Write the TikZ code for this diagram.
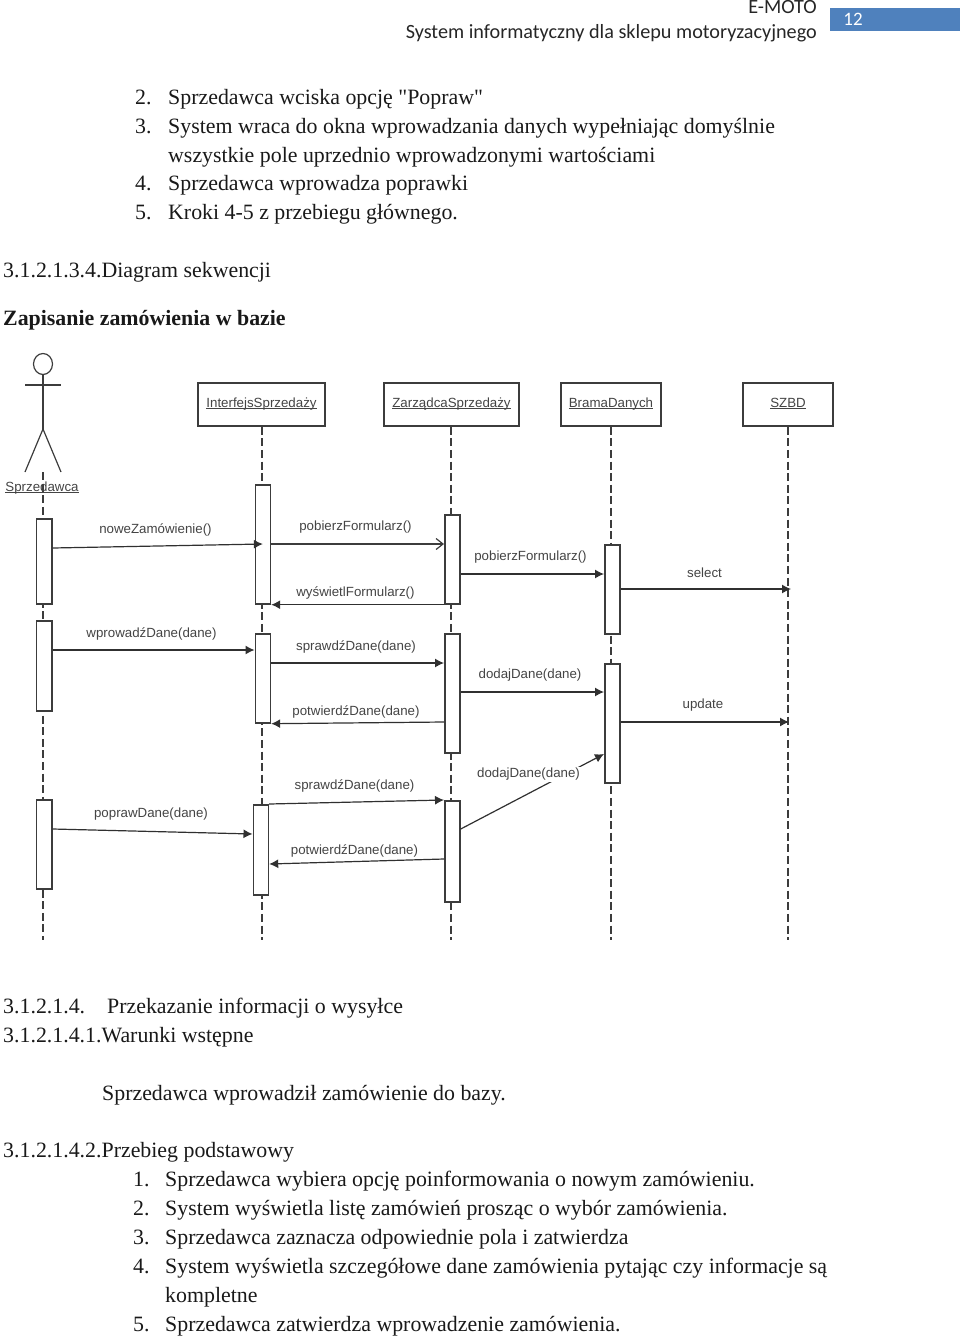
\documentclass[tikz,border=0pt]{standalone}
\usepackage{fontspec}
\setmainfont[Ligatures=TeXOff]{Liberation Serif}
\newfontfamily\diagfont{Liberation Sans}
\newfontfamily\headfont{Carlito}
\usetikzlibrary{arrows.meta,shapes.geometric}
\definecolor{ink}{HTML}{3C3C3C}
\definecolor{lab}{HTML}{444444}
\definecolor{pageblue}{HTML}{4F81BD}
\newcommand{\ul}[1]{\raisebox{-7pt}{\underline{\smash{#1}}}}
\tikzset{
  body/.style={anchor=base west,inner sep=0pt,font=\fontsize{21.87}{26}\selectfont,text=black!90},
  head/.style={anchor=base east,inner sep=0pt,font=\headfont\fontsize{20.2}{24}\selectfont,text=black!85},
  objbox/.style={draw=ink,line width=1.4pt,fill=white,inner sep=0pt,font=\diagfont\fontsize{13.3}{16}\selectfont,text=lab},
  actbox/.style={draw=ink,line width=1.7pt,fill=white,inner sep=0pt,anchor=north west,minimum width=15pt},
  life/.style={draw=ink,line width=1.4pt,dash pattern=on 8pt off 3.6pt},
  msg/.style={draw=ink!80!black,line width=1.2pt,-{Latex[length=9pt,width=9pt]}},
  openmsg/.style={draw=ink,line width=1.2pt,-{Straight Barb[length=7pt,width=11pt]}},
  mlabel/.style={inner sep=0pt,yshift=-1.5pt,font=\diagfont\fontsize{13.3}{16}\selectfont,text=lab},
  limb/.style={draw=ink,line width=1.2pt}
}
\begin{document}
\begin{tikzpicture}[x=1pt,y=-1pt]
\useasboundingbox (0,0) rectangle (960,1338);
% page header
\node[head] (h1) at (817,14) {E-MOTO};
\node[head] (h2) at (817,38) {System informatyczny dla sklepu motoryzacyjnego};
\fill[pageblue] (830,8) rectangle (960,31);
\node[inner sep=0pt,text=white,font=\headfont\fontsize{19}{22}\selectfont] (pg) at (853,19.5) {12};
% upper text
\node[body] (t1n) at (135,104) {2.};
\node[body] (t1) at (168,104) {Sprzedawca wciska opcję "Popraw"};
\node[body] (t2n) at (135,133) {3.};
\node[body] (t2) at (168,133) {System wraca do okna wprowadzania danych wypełniając domyślnie};
\node[body] (t3) at (168,162) {wszystkie pole uprzednio wprowadzonymi wartościami};
\node[body] (t4n) at (135,190) {4.};
\node[body] (t4) at (168,190) {Sprzedawca wprowadza poprawki};
\node[body] (t5n) at (135,219) {5.};
\node[body] (t5) at (168,219) {Kroki 4-5 z przebiegu głównego.};
\node[body] (s1) at (3,277) {3.1.2.1.3.4.Diagram sekwencji};
\node[body,font=\fontsize{21.87}{26}\selectfont\bfseries] (s2) at (3,325) {Zapisanie zamówienia w bazie};
% object boxes
\node[objbox,minimum width=127pt,minimum height=43pt] (oi) at (261.5,404.5) {\ul{InterfejsSprzedaży}};
\node[objbox,minimum width=135pt,minimum height=43pt] (oz) at (451.5,404.5) {\ul{ZarządcaSprzedaży}};
\node[objbox,minimum width=100pt,minimum height=43pt] (ob) at (611,404.5) {\ul{BramaDanych}};
\node[objbox,minimum width=90pt,minimum height=43pt] (os) at (788,404.5) {\ul{SZBD}};
% lifelines
\coordinate (actorfoot) at (43,472);
\coordinate (e0) at (43,940);
\coordinate (e1) at (262,940);
\coordinate (e2) at (451,940);
\coordinate (e3) at (611,940);
\coordinate (e4) at (788,940);
\draw[life] (actorfoot) -- (e0);
\draw[life] (oi.south -| e1) -- (e1);
\draw[life] (oz.south -| e2) -- (e2);
\draw[life] (ob.south) -- (e3);
\draw[life] (os.south) -- (e4);
% actor
\node[draw=ink,line width=1.2pt,ellipse,inner sep=0pt,minimum width=19pt,minimum height=21pt,fill=white] (ah) at (43,364) {};
\coordinate (aw) at (25,385);
\coordinate (ae) at (61,385);
\coordinate (ahip) at (43,429);
\coordinate (all) at (25,472);
\coordinate (alr) at (61,472);
\draw[limb] (ah.south) -- (ahip);
\draw[limb] (aw) -- (ae);
\draw[limb] (all) -- (ahip) -- (alr);
\node[mlabel,yshift=-1pt] (al) at (42,486) {\ul{Sprzedawca}};
% activations
\node[actbox,minimum height=85pt,minimum width=15.5pt] (a1) at (35.5,518) {};
\node[actbox,minimum height=90pt,minimum width=15.5pt] (a2) at (35.5,620) {};
\node[actbox,minimum height=89pt,minimum width=15.5pt] (a3) at (35.5,799) {};
\node[actbox,minimum height=119pt] (b1) at (254.5,484) {};
\node[actbox,minimum height=89pt] (b2) at (254.5,633) {};
\node[actbox,minimum height=90pt] (b3) at (252.5,804) {};
\node[actbox,minimum height=89pt] (c1) at (444,514) {};
\node[actbox,minimum height=119pt] (c2) at (444,633) {};
\node[actbox,minimum height=101pt] (c3) at (444,800) {};
\node[actbox,minimum height=89pt] (d1) at (604,544) {};
\node[actbox,minimum height=119pt] (d2) at (604,663) {};
% messages
\draw[msg] ([yshift=-30pt]a1.north east) -- ([yshift=-60pt]b1.north);
\node[mlabel] (m1) at (155.5,528) {noweZamówienie()};
\draw[openmsg] ([yshift=-60pt]b1.north east) -- ([yshift=-30pt]c1.north west);
\node[mlabel] (m2) at (355.5,526) {pobierzFormularz()};
\draw[msg] (c1.south west) -- (b1.south east);
\node[mlabel] (m3) at (355.5,591) {wyświetlFormularz()};
\draw[msg] ([yshift=-60pt]c1.north east) -- ([yshift=-30pt]d1.north west);
\node[mlabel] (m4) at (530.5,556) {pobierzFormularz()};
\draw[msg] ([yshift=-45pt]d1.north east) -- ([yshift=-45pt,xshift=3pt]os.south |- d1.north);
\node[mlabel] (m5) at (704.5,571) {select};
\draw[msg] ([yshift=-30pt]a2.north east) -- ([yshift=-17pt]b2.north west);
\node[mlabel] (m6) at (151.5,632) {wprowadźDane(dane)};
\draw[msg] ([yshift=-30pt]b2.north east) -- ([yshift=-30pt]c2.north west);
\node[mlabel] (m7) at (356,645) {sprawdźDane(dane)};
\draw[msg] ([yshift=-89pt]c2.north west) -- (b2.south east);
\node[mlabel] (m8) at (356,710) {potwierdźDane(dane)};
\draw[msg] ([yshift=-59pt]c2.north east) -- ([yshift=-29pt]d2.north west);
\node[mlabel] (m9) at (530,674) {dodajDane(dane)};
\draw[msg] ([yshift=-59pt]d2.north east) -- ([yshift=-59pt,xshift=1pt]os.south |- d2.north);
\node[mlabel] (m10) at (703,704) {update};
\draw[msg] ([yshift=-30pt]a3.north east) -- ([yshift=-30pt]b3.north west);
\node[mlabel] (m11) at (151,813) {poprawDane(dane)};
\draw[msg] (b3.north east) -- (c3.north west);
\node[mlabel] (m12) at (354.5,784) {sprawdźDane(dane)};
\draw[msg] ([yshift=-59pt]c3.north west) -- ([yshift=-60pt]b3.north east);
\node[mlabel] (m13) at (354.5,849) {potwierdźDane(dane)};
\draw[msg] ([yshift=-29pt]c3.north east) -- ([yshift=-91pt]d2.north west);
\node[mlabel,fill=white,inner sep=1pt] (m14) at (528.5,773) {dodajDane(dane)};
% lower text
\node[body] (u1) at (3,1013) {3.1.2.1.4.};
\node[body] (u1b) at (107,1013) {Przekazanie informacji o wysyłce};
\node[body] (u2) at (3,1042) {3.1.2.1.4.1.Warunki wstępne};
\node[body] (u3) at (102,1100) {Sprzedawca wprowadził zamówienie do bazy.};
\node[body] (u4) at (3,1157) {3.1.2.1.4.2.Przebieg podstawowy};
\node[body] (l1n) at (133,1186) {1.};
\node[body] (l1) at (165,1186) {Sprzedawca wybiera opcję poinformowania o nowym zamówieniu.};
\node[body] (l2n) at (133,1215) {2.};
\node[body] (l2) at (165,1215) {System wyświetla listę zamówień prosząc o wybór zamówienia.};
\node[body] (l3n) at (133,1244) {3.};
\node[body] (l3) at (165,1244) {Sprzedawca zaznacza odpowiednie pola i zatwierdza};
\node[body] (l4n) at (133,1273) {4.};
\node[body] (l4) at (165,1273) {System wyświetla szczegółowe dane zamówienia pytając czy informacje są};
\node[body] (l4b) at (165,1302) {kompletne};
\node[body] (l5n) at (133,1331) {5.};
\node[body] (l5) at (165,1331) {Sprzedawca zatwierdza wprowadzenie zamówienia.};
\end{tikzpicture}
\end{document}
